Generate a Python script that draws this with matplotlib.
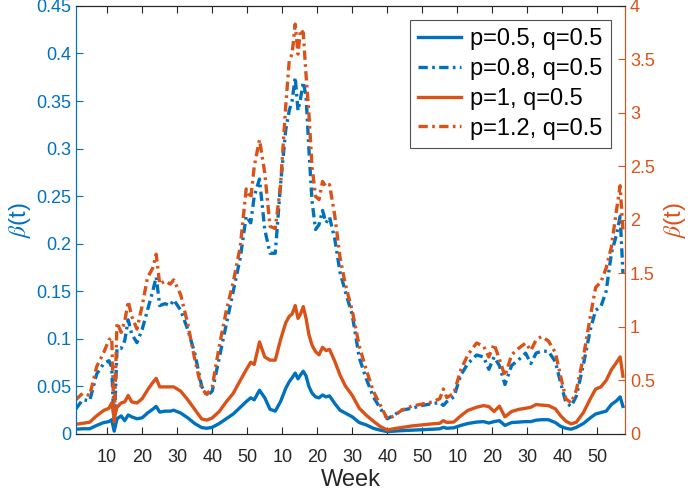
import numpy as np
import matplotlib
matplotlib.use('Agg')
import matplotlib.pyplot as plt

plt.rcParams['font.family'] = ['Liberation Sans', 'DejaVu Sans']
plt.rcParams['mathtext.fontset'] = 'stix'

# semanas (eje x continuo, 3 años)
semanas = [1, 3, 5, 7, 9, 10.5, 11.3, 12, 12.8, 14, 15, 16, 17, 18.5, 20, 21.5, 23, 24, 25,
           26.5, 28, 29, 31, 33, 35, 37, 38.5, 40, 42, 44, 46, 48, 49.7, 51, 52, 53.5, 55,
           56.5, 58, 59.5, 61, 62, 62.8, 63.7, 64.5, 65.2, 66, 66.8, 67.6, 68.5, 69.5, 70.5,
           71.5, 72.5, 73.5, 75, 76.5, 78, 80, 82, 84, 86, 88, 90, 92, 94, 97, 100, 103, 105,
           106, 107, 109, 111, 113, 115.5, 117.5, 119, 120.5, 122, 123.6, 125.5, 127.5, 129.5,
           131, 132.5, 134, 136, 138, 139.5, 141, 142.5, 144, 146, 148, 149.5, 151, 152.5, 154,
           155.5, 156.5, 157.3]

# p=0.5, q=0.5 (eje izquierdo)
beta_p05 = [0.005, 0.0055, 0.0055, 0.009, 0.012, 0.013, 0.015, 0.003, 0.016, 0.019, 0.014,
            0.02, 0.018, 0.016, 0.017, 0.022, 0.026, 0.029, 0.023, 0.024, 0.024, 0.025, 0.022,
            0.017, 0.011, 0.0067, 0.006, 0.007, 0.011, 0.016, 0.021, 0.028, 0.034, 0.038,
            0.036, 0.046, 0.038, 0.026, 0.024, 0.034, 0.048, 0.055, 0.059, 0.064, 0.058,
            0.062, 0.066, 0.061, 0.05, 0.043, 0.039, 0.038, 0.041, 0.039, 0.04, 0.032, 0.025,
            0.022, 0.018, 0.012, 0.0095, 0.006, 0.004, 0.0025, 0.003, 0.0035, 0.004, 0.0045,
            0.005, 0.0055, 0.007, 0.006, 0.0065, 0.009, 0.011, 0.0125, 0.013, 0.0115, 0.013,
            0.014, 0.009, 0.012, 0.0125, 0.013, 0.013, 0.0145, 0.015, 0.015, 0.012, 0.008,
            0.006, 0.005, 0.007, 0.011, 0.017, 0.021, 0.0225, 0.024, 0.031, 0.035, 0.039, 0.029]

# p=0.8, q=0.5 (eje izquierdo)
beta_p08 = [0.026, 0.036, 0.035, 0.063, 0.074, 0.077, 0.07, 0.004, 0.09, 0.09, 0.098, 0.12,
            0.105, 0.096, 0.11, 0.13, 0.15, 0.165, 0.135, 0.137, 0.135, 0.141, 0.13, 0.11,
            0.085, 0.05, 0.04, 0.045, 0.08, 0.115, 0.15, 0.185, 0.229, 0.222, 0.25, 0.268,
            0.215, 0.19, 0.19, 0.262, 0.32, 0.34, 0.35, 0.375, 0.34, 0.352, 0.37, 0.355, 0.30,
            0.245, 0.215, 0.22, 0.235, 0.222, 0.228, 0.205, 0.17, 0.15, 0.125, 0.08, 0.058,
            0.039, 0.027, 0.016, 0.02, 0.025, 0.027, 0.03, 0.032, 0.033, 0.03, 0.034, 0.039,
            0.062, 0.074, 0.083, 0.081, 0.068, 0.081, 0.072, 0.052, 0.072, 0.078, 0.085, 0.074,
            0.085, 0.087, 0.087, 0.076, 0.054, 0.033, 0.029, 0.04, 0.073, 0.11, 0.13, 0.134,
            0.15, 0.19, 0.21, 0.229, 0.169]

# p=1, q=0.5 (eje derecho)
beta_p1 = [0.09, 0.1, 0.11, 0.17, 0.22, 0.24, 0.29, 0.15, 0.25, 0.29, 0.3, 0.36, 0.3, 0.29,
           0.33, 0.41, 0.48, 0.52, 0.44, 0.44, 0.44, 0.44, 0.4, 0.32, 0.23, 0.14, 0.13, 0.15,
           0.21, 0.3, 0.38, 0.5, 0.6, 0.67, 0.65, 0.86, 0.72, 0.69, 0.69, 0.88, 1.04, 1.1,
           1.12, 1.2, 1.08, 1.12, 1.19, 1.08, 0.93, 0.83, 0.77, 0.74, 0.81, 0.78, 0.79, 0.68,
           0.55, 0.45, 0.36, 0.24, 0.175, 0.12, 0.07, 0.037, 0.05, 0.06, 0.075, 0.085, 0.095,
           0.1, 0.125, 0.108, 0.112, 0.17, 0.22, 0.25, 0.265, 0.256, 0.21, 0.26, 0.16, 0.21,
           0.23, 0.24, 0.25, 0.275, 0.27, 0.265, 0.235, 0.17, 0.12, 0.094, 0.11, 0.2, 0.33,
           0.42, 0.44, 0.5, 0.6, 0.67, 0.72, 0.54]

# p=1.2, q=0.5 (eje derecho)
beta_p12 = [0.32, 0.38, 0.36, 0.63, 0.76, 0.88, 0.9, 0.1, 1.04, 0.95, 1.05, 1.24, 1.1, 0.98,
            1.2, 1.46, 1.55, 1.68, 1.4, 1.43, 1.4, 1.44, 1.3, 1.03, 0.7, 0.42, 0.37, 0.44,
            0.82, 1.15, 1.42, 1.75, 2.29, 2.2, 2.5, 2.75, 2.44, 1.94, 1.92, 2.32, 3.07, 3.49,
            3.55, 3.83, 3.55, 3.78, 3.75, 3.35, 3.0, 2.5, 2.22, 2.19, 2.36, 2.31, 2.33, 2.04,
            1.65, 1.4, 1.15, 0.82, 0.6, 0.4, 0.27, 0.14, 0.17, 0.22, 0.26, 0.28, 0.3, 0.33,
            0.42, 0.34, 0.38, 0.6, 0.74, 0.85, 0.82, 0.72, 0.84, 0.7, 0.54, 0.74, 0.8, 0.85,
            0.78, 0.88, 0.91, 0.87, 0.76, 0.54, 0.33, 0.29, 0.41, 0.72, 1.1, 1.37, 1.42, 1.55,
            1.75, 2.1, 2.32, 1.9]

xticks = list(range(10, 151, 10))
xticklabels = [str((t - 1) % 50 + 1) for t in xticks]

azul = '#0072BD'
naranja = '#D95319'
gris = '#262626'
dashdot = (0, (2.8, 1.3, 0.8, 1.3))

fig = plt.figure(figsize=(6.88, 4.94), dpi=100)
ax = fig.add_axes([0.1105, 0.1215, 0.798, 0.8665])
ax2 = ax.twinx()

l1, = ax.plot(semanas, beta_p05, color=azul, lw=2.4, label='p=0.5, q=0.5')
l2, = ax.plot(semanas, beta_p08, color=azul, lw=2.4, ls=dashdot, label='p=0.8, q=0.5')
l3, = ax2.plot(semanas, beta_p1, color=naranja, lw=2.4, label='p=1, q=0.5')
l4, = ax2.plot(semanas, beta_p12, color=naranja, lw=2.4, ls=dashdot, label='p=1.2, q=0.5')

ax.set_xlim(1.1, 157.9)
ax.set_ylim(0, 0.45)
ax2.set_ylim(0, 4)

ax.set_xticks(xticks)
ax.set_xticklabels(xticklabels)
ax.set_yticks(np.arange(0, 0.451, 0.05))
ax.set_yticklabels(['0', '0.05', '0.1', '0.15', '0.2', '0.25', '0.3', '0.35', '0.4', '0.45'])
ax2.set_yticks(np.arange(0, 4.01, 0.5))
ax2.set_yticklabels(['0', '0.5', '1', '1.5', '2', '2.5', '3', '3.5', '4'])

ax.tick_params(axis='x', direction='in', top=True, length=5, width=0.8,
               colors=gris, labelsize=13, pad=11)
ax.tick_params(axis='y', direction='in', length=5, width=0.8, colors=azul, labelsize=13)
ax2.tick_params(axis='y', direction='in', length=5, width=0.8, colors=naranja, labelsize=13)

for a in (ax, ax2):
    a.spines['top'].set_color(gris)
    a.spines['bottom'].set_color(gris)
    a.spines['left'].set_color(azul)
    a.spines['right'].set_color(naranja)
    for s in a.spines.values():
        s.set_linewidth(0.8)

ax.set_xlabel('Week', fontsize=17, color=gris, labelpad=2)
ax.set_ylabel(r'$\beta$(t)', fontsize=17, color=azul, labelpad=2)
ax2.set_ylabel(r'$\beta$(t)', fontsize=17, color=naranja, labelpad=5)

leg = ax2.legend(handles=[l1, l2, l3, l4], loc='upper right', fontsize=17,
                 frameon=True, fancybox=False, borderaxespad=0.6,
                 handlelength=1.8, handletextpad=0.4, labelspacing=0.33,
                 borderpad=0.35)
leg.get_frame().set_edgecolor(gris)
leg.get_frame().set_linewidth(0.8)

fig.savefig('out.png', dpi=100)
